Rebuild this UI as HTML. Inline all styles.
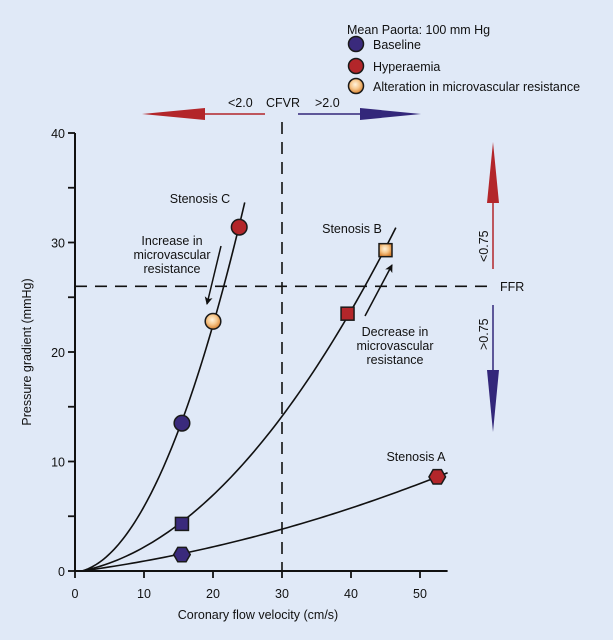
<!DOCTYPE html>
<html><head><meta charset="utf-8"><style>
html,body{margin:0;padding:0;background:#e0e9f7;}
svg{display:block;font-family:"Liberation Sans",sans-serif;}
</style></head><body>
<svg id="chart" width="613" height="640" viewBox="0 0 613 640">
<defs>
<radialGradient id="og" cx="45%" cy="40%" r="60%"><stop offset="0" stop-color="#fff3dc"/><stop offset="0.5" stop-color="#f6c88e"/><stop offset="1" stop-color="#d9822f"/></radialGradient>
<marker id="ah" markerWidth="8" markerHeight="8" refX="7" refY="4" orient="auto" markerUnits="userSpaceOnUse"><path d="M0,0 L8,4 L0,8 L2,4 Z" fill="#111"/></marker>
</defs>
<rect width="613" height="640" fill="#e0e9f7"/>
<g id="axes"></g>
<g id="plot"></g>
<g font-size="12.5" fill="#111">
<text x="347" y="34">Mean Paorta: 100 mm Hg</text>
<circle cx="356" cy="44" r="7.5" fill="#3a2a7c" stroke="#1a1a1a" stroke-width="1.5"/>
<text x="373" y="49">Baseline</text>
<circle cx="356" cy="66" r="7.5" fill="#b3262a" stroke="#1a1a1a" stroke-width="1.5"/>
<text x="373" y="71">Hyperaemia</text>
<circle cx="356" cy="86" r="7.5" fill="url(#og)" stroke="#1a1a1a" stroke-width="1.5"/>
<text x="373" y="91">Alteration in microvascular resistance</text>
</g>
<g font-size="12.5" fill="#111">
<line x1="205" y1="114" x2="265" y2="114" stroke="#b3262a" stroke-width="1.5"/>
<polygon points="142,114 205,108 205,120" fill="#b3262a"/>
<line x1="298" y1="114" x2="360" y2="114" stroke="#33277a" stroke-width="1.5"/>
<polygon points="421,114 360,108 360,120" fill="#33277a"/>
<text x="228" y="107">&lt;2.0</text>
<text x="266" y="107">CFVR</text>
<text x="315" y="107">&gt;2.0</text>
</g>
<g font-size="12.5" fill="#111">
<line x1="493" y1="203" x2="493" y2="269" stroke="#b3262a" stroke-width="1.5"/>
<polygon points="493,142 487,203 499,203" fill="#b3262a"/>
<line x1="493" y1="305" x2="493" y2="370" stroke="#33277a" stroke-width="1.5"/>
<polygon points="493,432 487,370 499,370" fill="#33277a"/>
<text transform="translate(488,262) rotate(-90)">&lt;0.75</text>
<text transform="translate(488,350) rotate(-90)">&gt;0.75</text>
<text x="500" y="291">FFR</text>
</g>
<g font-size="12.5" fill="#111" text-anchor="middle">
<text x="200" y="203">Stenosis C</text>
<text x="352" y="233">Stenosis B</text>
<text x="416" y="461">Stenosis A</text>
<text><tspan x="172" y="245">Increase in</tspan><tspan x="172" y="259">microvascular</tspan><tspan x="172" y="273">resistance</tspan></text>
<text><tspan x="395" y="336">Decrease in</tspan><tspan x="395" y="350">microvascular</tspan><tspan x="395" y="364">resistance</tspan></text>
</g>
<line x1="221" y1="246" x2="207" y2="304" stroke="#111" stroke-width="1.5" marker-end="url(#ah)"/>
<line x1="365" y1="316" x2="392" y2="265" stroke="#111" stroke-width="1.5" marker-end="url(#ah)"/>
</svg>
<script>
const xTicks=[0,10,20,30,40,50];
const yTicks=[0,5,10,15,20,25,30,35,40];
const yLabels=["0","","10","","20","","30","","40"];
const curveAv=[15.5,30,45,52.5];
const curveAp=[1.5,3.9,6.8,8.6];
const curveBv=[10,15.5,20,30,39.5,45];
const curveBp=[2.2,4.3,6.9,14.2,23.5,29.3];
const curveCv=[15.5,20,23.8];
const curveCp=[13.5,22.8,31.4];
const curveStart=[1,1,1];
const curveEnd=[54,46.5,24.6];
const markerNames=["stenosis-a-baseline","stenosis-a-hyperaemia","stenosis-b-baseline","stenosis-b-hyperaemia","stenosis-b-altered","stenosis-c-baseline","stenosis-c-altered","stenosis-c-hyperaemia"];
const markerV=[15.5,52.5,15.5,39.5,45,15.5,20,23.8];
const markerP=[1.5,8.6,4.3,23.5,29.3,13.5,22.8,31.4];
const markerShape=["hex","hex","sq","sq","sq","circ","circ","circ"];
const markerKind=["base","hyp","base","hyp","alt","base","alt","hyp"];
const cfvrLineX=30;
const ffrLineY=26;

const X=v=>75+v*6.9;
const Y=p=>571-p*10.95;
const NS="http://www.w3.org/2000/svg";
function mk(tag,attrs,parent){const e=document.createElementNS(NS,tag);for(const k in attrs)e.setAttribute(k,attrs[k]);parent.appendChild(e);return e;}
const axes=document.getElementById('axes'),plot=document.getElementById('plot');

let a=mk('line',{x1:X(0),y1:Y(0),x2:X(54),y2:Y(0),stroke:'#111','stroke-width':2},axes);


a=mk('line',{x1:X(0),y1:Y(0),x2:X(0),y2:Y(40),stroke:'#111','stroke-width':2},axes);


xTicks.forEach(t=>{
 let l=mk('line',{x1:X(t),y1:Y(0),x2:X(t),y2:Y(0)+7,stroke:'#111','stroke-width':1.8},axes);
 
 
 let tx=mk('text',{x:X(t),y:598,'font-size':12.5,'text-anchor':'middle',fill:'#111'},axes);tx.textContent=t;
 
 
});
yTicks.forEach((t,i)=>{
 let l=mk('line',{x1:X(0)-7,y1:Y(t),x2:X(0),y2:Y(t),stroke:'#111','stroke-width':1.8},axes);
 
 
 if(yLabels[i]){let tx=mk('text',{x:X(0)-10,y:Y(t)+5,'font-size':12.5,'text-anchor':'end',fill:'#111'},axes);tx.textContent=yLabels[i];
 
 }
});
let xt=mk('text',{x:258,y:619,'font-size':12.5,'text-anchor':'middle',fill:'#111'},axes);xt.textContent='Coronary flow velocity (cm/s)';


let yt=mk('text',{transform:'translate(31,352) rotate(-90)','font-size':12.5,'text-anchor':'middle',fill:'#111'},axes);yt.textContent='Pressure gradient (mmHg)';



let d=mk('line',{x1:X(cfvrLineX),y1:122,x2:X(cfvrLineX),y2:Y(0),stroke:'#111','stroke-width':1.6,'stroke-dasharray':'12,8'},plot);


d=mk('line',{x1:X(0),y1:Y(ffrLineY),x2:490,y2:Y(ffrLineY),stroke:'#111','stroke-width':1.6,'stroke-dasharray':'12,8'},plot);



// least-squares fit p = a*x + b*x^2 with x = v - v0, sampled densely
function fitCurve(vs,ps,v0,v1){
 const nb=2;
 const M=[[0,0],[0,0]],R=[0,0];
 vs.forEach((v,k)=>{const x=v-v0;const f=[x,x*x];
  for(let i=0;i<nb;i++){R[i]+=f[i]*ps[k];for(let j=0;j<nb;j++)M[i][j]+=f[i]*f[j];}});
 const det=M[0][0]*M[1][1]-M[0][1]*M[1][0];
 let ca=(R[0]*M[1][1]-M[0][1]*R[1])/det;
 let cb=(M[0][0]*R[1]-M[1][0]*R[0])/det;
 if(ca<0){ // refit with pure quadratic to keep curve rising from the origin
  let num=0,den=0;vs.forEach((v,k)=>{const x=v-v0;num+=x*x*ps[k];den+=x*x*x*x;});ca=0;cb=num/den;}
 let s='';
 for(let k=0;k<=80;k++){const v=v0+(v1-v0)*k/80;const x=v-v0;const p=ca*x+cb*x*x;
  s+=(k?' L':'M')+X(v).toFixed(2)+','+Y(Math.max(0,p)).toFixed(2);}
 return s;
}
[[curveAv,curveAp,0,'stenosis-a-curve'],[curveBv,curveBp,1,'stenosis-b-curve'],[curveCv,curveCp,2,'stenosis-c-curve']].forEach(c=>{
 let p=mk('path',{d:fitCurve(c[0],c[1],curveStart[c[2]],curveEnd[c[2]]),fill:'none',stroke:'#111','stroke-width':1.6},plot);
 
 
});
const fills={base:'#3a2a7c',hyp:'#b3262a',alt:'url(#og)'};
markerV.forEach((v,i)=>{
 const cx=X(v),cy=Y(markerP[i]);let m;
 const st={fill:fills[markerKind[i]],stroke:'#1a1a1a','stroke-width':1.5};
 if(markerShape[i]==='circ'){m=mk('circle',Object.assign({cx:cx,cy:cy,r:7.8},st),plot);}
 else if(markerShape[i]==='sq'){m=mk('rect',Object.assign({x:cx-6.5,y:cy-6.5,width:13,height:13},st),plot);}
 else{const r=8.3;let pts=[];for(let k=0;k<6;k++){const an=Math.PI/3*k;pts.push((cx+r*Math.cos(an))+','+(cy+r*Math.sin(an)));}
  m=mk('polygon',Object.assign({points:pts.join(' ')},st),plot);}
 
 
});
</script>
</body></html>
